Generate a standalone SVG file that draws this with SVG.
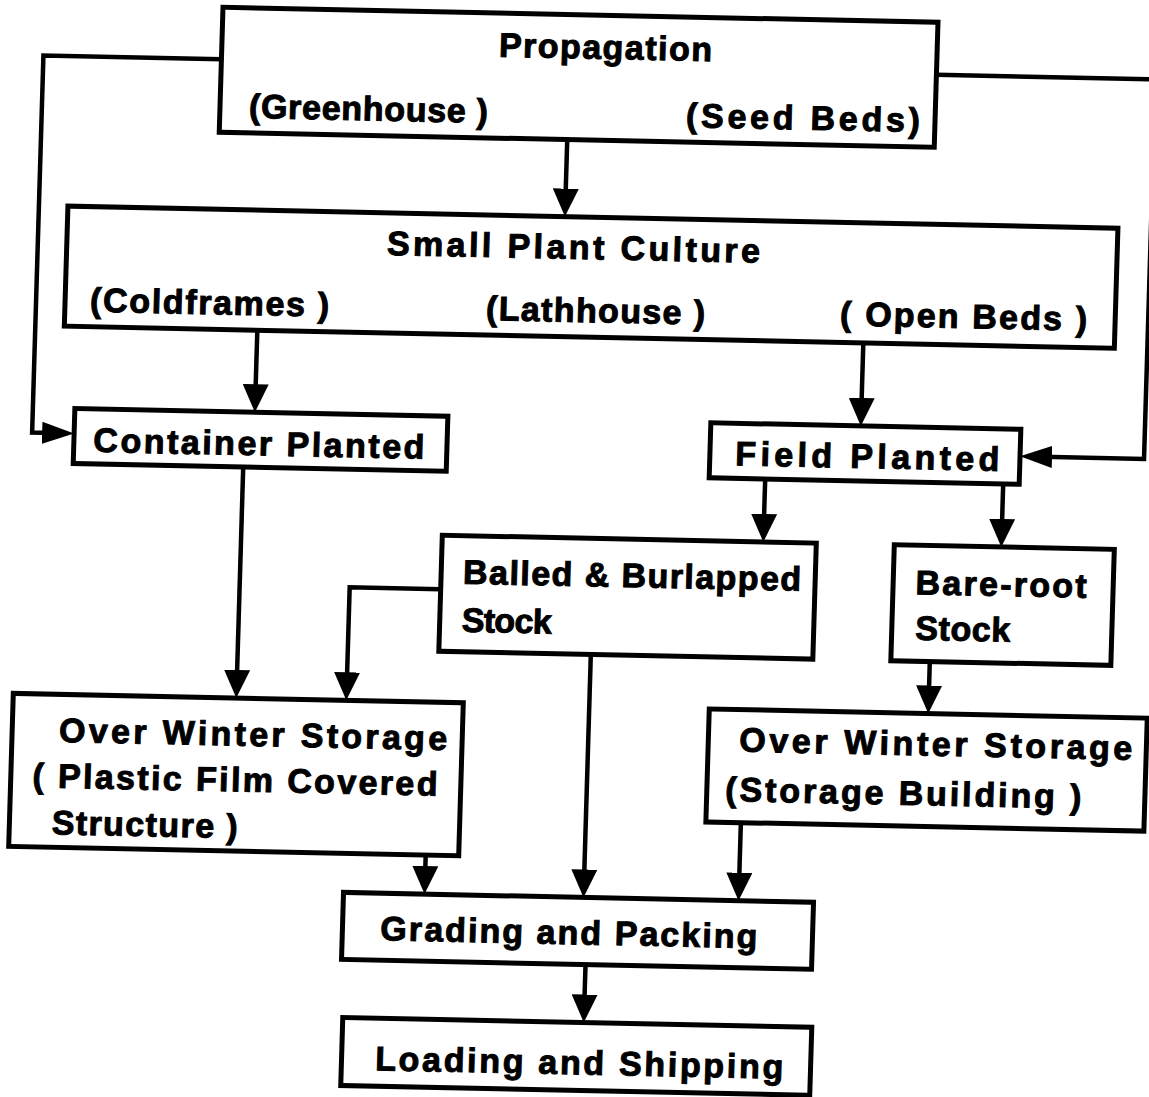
<svg xmlns="http://www.w3.org/2000/svg" width="1149" height="1097" viewBox="0 0 1149 1097">
<style>
.box{fill:none;stroke:#000;stroke-width:5}
.ln{fill:none;stroke:#000;stroke-width:4.5}
.v{marker-end:url(#ah)}
.h{marker-end:url(#ahs)}
text{font-family:"Liberation Sans",Arial,sans-serif;font-weight:bold;font-size:34px;fill:#000;stroke:#000;stroke-width:1}
</style>
<defs>
<marker id="ah" markerUnits="userSpaceOnUse" markerWidth="30" markerHeight="26" refX="18" refY="13" orient="auto" viewBox="0 0 30 26"><path d="M0,0 L28,13 L0,26 z" fill="#000"/></marker>
<marker id="ahs" markerUnits="userSpaceOnUse" markerWidth="34" markerHeight="22" refX="22" refY="11" orient="auto" viewBox="0 0 34 22"><path d="M0,0 L32,11 L0,22 z" fill="#000"/></marker>
</defs>
<rect width="1149" height="1097" fill="#fff"/>
<g transform="matrix(1,0.021,-0.03,1,16.44,-12.05)">
<g id="connectors">
<path class="ln v" d="M555,140 V207"/>
<path class="ln v" d="M251,337 V409"/>
<path class="ln v" d="M857,337 V410"/>
<path class="ln v" d="M763,475 V528"/>
<path class="ln v" d="M1001,475 V528"/>
<path class="ln v" d="M241,474 V695"/>
<path class="ln v" d="M442,592 H351 V695"/>
<path class="ln v" d="M933,654 V696"/>
<path class="ln v" d="M435,858 V887"/>
<path class="ln v" d="M594,654 V887"/>
<path class="ln v" d="M749,819 V887"/>
<path class="ln v" d="M598,964 V1012"/>
<path class="ln h" d="M207,67 H29 V444 H61"/>
<path class="ln h" d="M922,67.5 H1141 V447 H1027"/>
</g>
<g id="propagation">
<rect class="box" x="207" y="15" width="715" height="125"/>
<text x="484" y="58.6" textLength="213" lengthAdjust="spacing">Propagation</text>
<text x="236" y="125" textLength="239" lengthAdjust="spacing">(Greenhouse )</text>
<text x="673" y="125" textLength="234" lengthAdjust="spacing">(Seed Beds)</text>
</g>
<g id="small-plant-culture">
<rect class="box" x="58" y="217" width="1050" height="120"/>
<text x="378" y="259" textLength="373" lengthAdjust="spacing">Small Plant Culture</text>
<text x="83" y="322" textLength="239" lengthAdjust="spacing">(Coldframes )</text>
<text x="479" y="322" textLength="219" lengthAdjust="spacing">(Lathhouse )</text>
<text x="833" y="320" textLength="247" lengthAdjust="spacing">( Open Beds )</text>
</g>
<g id="container-planted">
<rect class="box" x="71" y="419" width="373" height="55"/>
<text x="90.5" y="462" textLength="331" lengthAdjust="spacing">Container Planted</text>
</g>
<g id="field-planted">
<rect class="box" x="707" y="420" width="310" height="55"/>
<text x="732.5" y="462" textLength="264" lengthAdjust="spacing">Field Planted</text>
</g>
<g id="balled-burlapped">
<rect class="box" x="442" y="538" width="374" height="116"/>
<text x="464" y="586" textLength="338" lengthAdjust="spacing">Balled &amp; Burlapped</text>
<text x="464" y="634" textLength="90" lengthAdjust="spacing">Stock</text>
</g>
<g id="bare-root">
<rect class="box" x="894" y="538" width="220" height="116"/>
<text x="916.5" y="587" textLength="171" lengthAdjust="spacing">Bare-root</text>
<text x="917.5" y="632.5" textLength="95" lengthAdjust="spacing">Stock</text>
</g>
<g id="winter-storage-plastic">
<rect class="box" x="18" y="705" width="450" height="153"/>
<text x="65" y="752.6" textLength="388" lengthAdjust="spacing">Over Winter Storage</text>
<text x="39.7" y="798.4" textLength="405" lengthAdjust="spacing">( Plastic Film Covered</text>
<text x="60.3" y="845" textLength="186" lengthAdjust="spacing">Structure )</text>
</g>
<g id="winter-storage-building">
<rect class="box" x="714" y="706" width="438" height="113"/>
<text x="745" y="748" textLength="393" lengthAdjust="spacing">Over Winter Storage</text>
<text x="732.6" y="797.7" textLength="356" lengthAdjust="spacing">(Storage Building )</text>
</g>
<g id="grading-packing">
<rect class="box" x="354" y="897" width="470" height="67"/>
<text x="392" y="944" textLength="377" lengthAdjust="spacing">Grading and Packing</text>
</g>
<g id="loading-shipping">
<rect class="box" x="357" y="1022" width="469" height="68"/>
<text x="390.7" y="1074" textLength="408" lengthAdjust="spacing">Loading and Shipping</text>
</g>
</g>
</svg>
